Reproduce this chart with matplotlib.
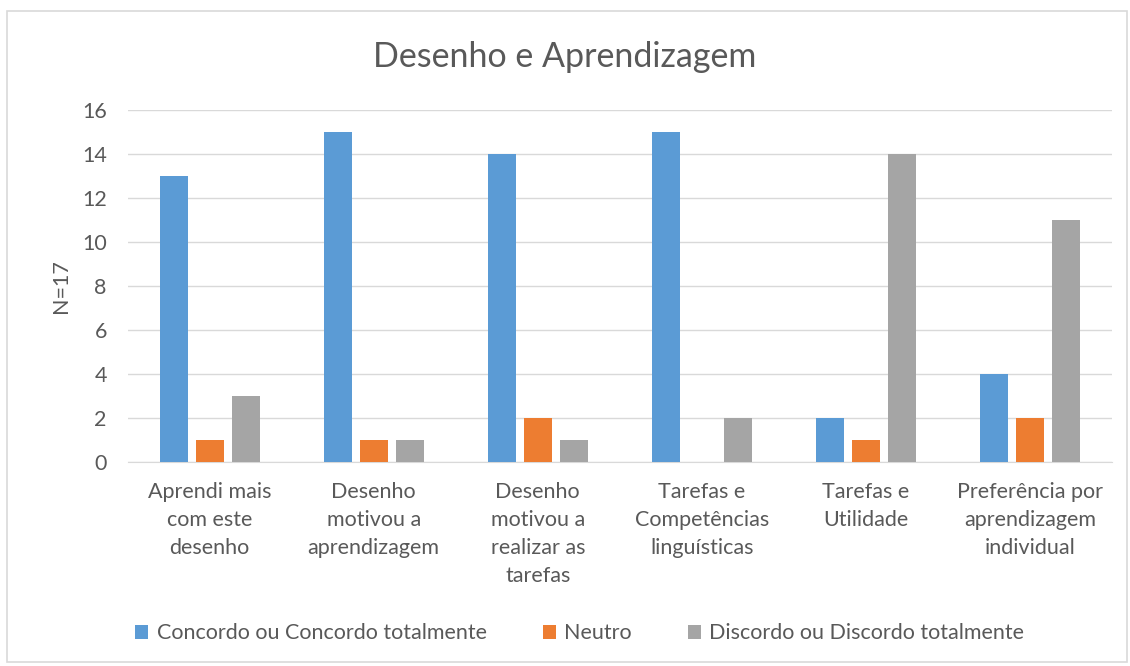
import numpy as np
import matplotlib.pyplot as plt
from matplotlib.patches import Rectangle

categories = [
    "Aprendi mais\ncom este\ndesenho",
    "Desenho\nmotivou a\naprendizagem",
    "Desenho\nmotivou a\nrealizar as\ntarefas",
    "Tarefas e\nCompetências\nlinguísticas",
    "Tarefas e\nUtilidade",
    "Preferência por\naprendizagem\nindividual",
]
series_names = ["Concordo ou Concordo totalmente", "Neutro", "Discordo ou Discordo totalmente"]
concordo = [13, 15, 14, 15, 2, 4]
neutro = [1, 1, 2, 0, 1, 2]
discordo = [3, 1, 1, 2, 14, 11]
colors = ["#5b9bd5", "#ed7d31", "#a5a5a5"]

plt.rcParams['font.family'] = ['Lato', 'DejaVu Sans']
txt = "#595959"

fig = plt.figure(figsize=(11.3, 6.66), dpi=100)
ax = fig.add_axes([0.113, 0.306, 0.871, 0.529])

# chart border
fig.patches.append(Rectangle((0.006, 0.006), 0.991, 0.978, transform=fig.transFigure,
                             fill=False, edgecolor="#d9d9d9", linewidth=1.2))

x = np.arange(len(categories))
w = 0.171
step = 0.22
for i, (vals, name) in enumerate(zip([concordo, neutro, discordo], series_names)):
    ax.bar(x + (i - 1) * step, vals, width=w, color=colors[i], label=name, zorder=3)

ax.set_xlim(-0.5, len(categories) - 0.5)
ax.set_ylim(0, 16)
ax.set_yticks(range(0, 17, 2))
ax.yaxis.grid(True, color="#d9d9d9", linewidth=1, zorder=0)
for s in ["top", "right", "left"]:
    ax.spines[s].set_visible(False)
ax.spines["bottom"].set_color("#d9d9d9")
ax.tick_params(axis="both", length=0, colors=txt, labelsize=15.5)
ax.tick_params(axis="y", pad=15)
ax.tick_params(axis="x", pad=14)
ax.set_xticks(x)
ax.set_xticklabels(categories, linespacing=1.5)
ax.set_ylabel("N=17", color=txt, fontsize=15.5, labelpad=8)

fig.text(0.5, 0.915, "Desenho e Aprendizagem", ha="center", va="center", fontsize=24.5, color=txt)

ax.legend(loc="center", bbox_to_anchor=(0.513, 0.049), bbox_transform=fig.transFigure,
          ncol=3, frameon=False, fontsize=15.5, labelcolor=txt, handlelength=0.6,
          handleheight=0.6, handletextpad=0.4, columnspacing=2.6)

fig.savefig("out.png", dpi=100)
